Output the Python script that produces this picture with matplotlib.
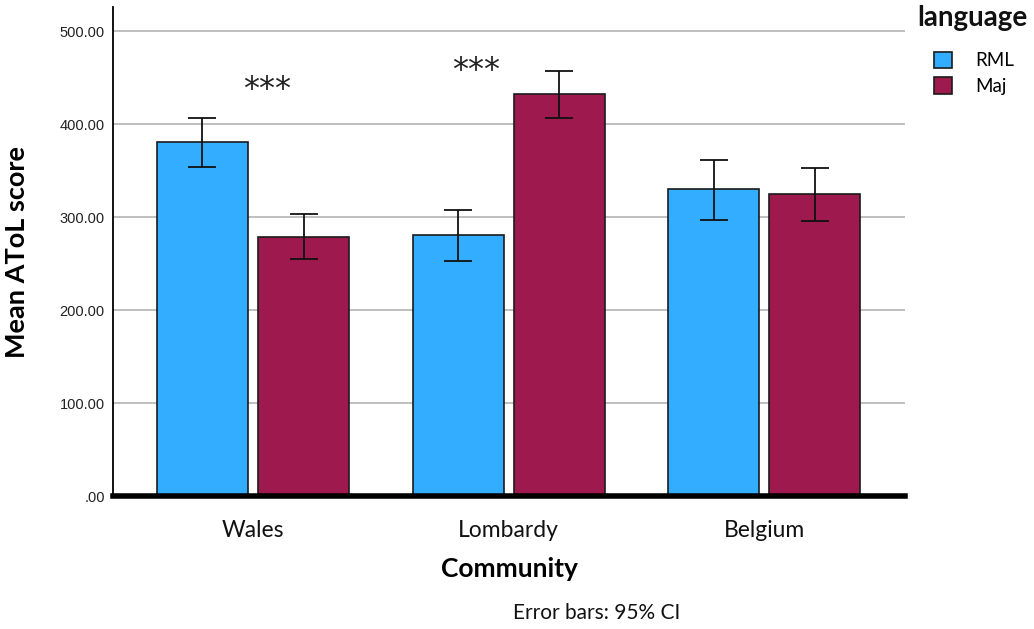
import numpy as np
import matplotlib.pyplot as plt

# Mean AToL scores per community and language, with 95% CI bounds
communities = ["Wales", "Lombardy", "Belgium"]
rml_mean = [380.7, 280.6, 329.7]
rml_ci_low = [353.4, 252.6, 297.4]
rml_ci_high = [407.0, 308.0, 361.0]
maj_mean = [278.8, 432.4, 325.0]
maj_ci_low = [255.0, 407.0, 296.0]
maj_ci_high = [303.5, 456.7, 353.0]
yticks = [0, 100, 200, 300, 400, 500]
ytick_labels = [".00", "100.00", "200.00", "300.00", "400.00", "500.00"]

# significance markers: (x in category units, y)
stars = [(0.055, 437), (0.871, 458)]

blue = "#33adff"
maroon = "#9e1a4e"

fig = plt.figure(figsize=(10.34, 6.29), dpi=100)
ax = fig.add_axes([0.1093, 0.2114, 0.7659, 0.7775])

x = np.arange(len(communities))
width = 0.356
offset = 0.198

def draw_group(pos, mean, lo, hi, color, label):
    ax.bar(pos, mean, width, color=color, edgecolor="#1a1a1a", linewidth=1.2,
           label=label, zorder=2)
    err = [np.array(mean) - np.array(lo), np.array(hi) - np.array(mean)]
    ax.errorbar(pos, mean, yerr=err, fmt="none", ecolor="#111111",
                elinewidth=1.3, capsize=10, capthick=1.3, zorder=3)

draw_group(x - offset, rml_mean, rml_ci_low, rml_ci_high, blue, "RML")
draw_group(x + offset, maj_mean, maj_ci_low, maj_ci_high, maroon, "Maj")

for sx, sy in stars:
    ax.text(sx, sy, "***", ha="center", va="center", fontsize=23,
            family="DejaVu Sans", color="#222222")

ax.set_xlim(-0.548, 2.55)
ax.set_ylim(0, 526)
ax.set_yticks(yticks)
ax.set_yticklabels(ytick_labels, family="Liberation Sans", fontsize=10.5,
                   color="#222222")
ax.set_xticks(x)
ax.set_xticklabels(communities, family="Lato", fontsize=16.5, color="#111111")
ax.tick_params(axis="x", length=0, pad=17)
ax.tick_params(axis="y", length=0, pad=6)

ax.yaxis.grid(True, color="#b4b4b4", linewidth=1.2, zorder=0)
ax.set_axisbelow(True)
for side in ["top", "right"]:
    ax.spines[side].set_visible(False)
ax.spines["left"].set_linewidth(1.3)
ax.spines["bottom"].set_linewidth(4)
ax.spines["bottom"].set_zorder(4)

ax.set_ylabel("Mean AToL score", family="Lato", fontweight="bold",
              fontsize=19.5, labelpad=22)
ax.set_xlabel("Community", family="Lato", fontweight="bold", fontsize=19,
              labelpad=12)

fig.text(0.577, 0.025, "Error bars: 95% CI", ha="center", va="center",
         family="Lato", fontsize=15, color="#111111")

# legend with a separate, larger title above it
fig.text(0.94, 0.972, "language", ha="center", va="center", family="Lato",
         fontweight="bold", fontsize=20, color="#111111")
ax.legend(loc="upper left", bbox_to_anchor=(0.903, 0.918),
          bbox_transform=fig.transFigure, frameon=False,
          prop={"family": "Lato", "size": 13.5},
          handlelength=1.0, handleheight=1.0, handletextpad=1.2,
          labelspacing=0.4, borderaxespad=0, borderpad=0)

fig.savefig("out.png", dpi=100)
